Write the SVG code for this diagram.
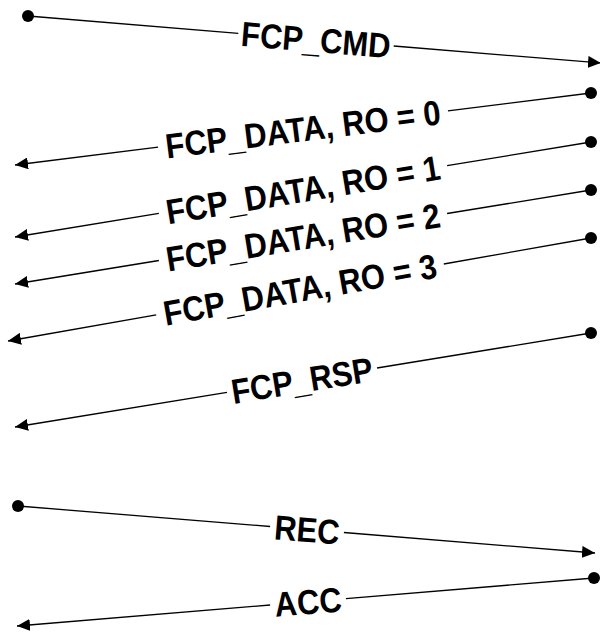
<svg xmlns="http://www.w3.org/2000/svg" width="600" height="632" viewBox="0 0 600 632">
  <style>
    .msg { stroke: #000; stroke-width: 1.3; fill: none; }
    .lbl { font-family: "Liberation Sans", Arial, sans-serif; font-weight: bold; font-size: 31px; fill: #000; text-anchor: middle; }
    .dot { fill: #000; }
  </style>
  <defs>
    <marker id="arrow" markerUnits="userSpaceOnUse" markerWidth="13" markerHeight="12" refX="13" refY="6" orient="auto">
      <path d="M0,0 L13,6 L0,12 z" fill="#000"/>
    </marker>
  </defs>
  <rect width="600" height="632" fill="#fff"/>

  <g id="connectors">
    <!-- FCP_CMD: initiator to target -->
    <g id="fcp-cmd">
      <circle class="dot" cx="28" cy="16" r="6"/>
      <line class="msg" x1="28" y1="16" x2="238.3" y2="33.3"/>
      <line class="msg" x1="393.7" y1="46" x2="601" y2="63" marker-end="url(#arrow)"/>
      <text class="lbl" transform="translate(316,39.7) rotate(4.7) scale(1,1.12)" x="0" y="11">FCP_CMD</text>
    </g>
    <!-- FCP_DATA frames: target to initiator -->
    <g id="fcp-data-0">
      <circle class="dot" cx="591" cy="93" r="6"/>
      <line class="msg" x1="591" y1="93" x2="447.9" y2="110.9"/>
      <line class="msg" x1="158.1" y1="147.1" x2="15" y2="165" marker-end="url(#arrow)"/>
      <text class="lbl" transform="translate(303,129) rotate(-7.13) scale(1,1.12)" x="0" y="11">FCP_DATA, RO = 0</text>
    </g>
    <g id="fcp-data-1">
      <circle class="dot" cx="591" cy="142" r="6"/>
      <line class="msg" x1="591" y1="142" x2="447.1" y2="165.7"/>
      <line class="msg" x1="158.9" y1="213.3" x2="15" y2="237" marker-end="url(#arrow)"/>
      <text class="lbl" transform="translate(303,189.5) rotate(-9.37) scale(1,1.12)" x="0" y="11">FCP_DATA, RO = 1</text>
    </g>
    <g id="fcp-data-2">
      <circle class="dot" cx="591" cy="190" r="6"/>
      <line class="msg" x1="591" y1="190" x2="447.1" y2="213.5"/>
      <line class="msg" x1="158.9" y1="260.5" x2="15" y2="284" marker-end="url(#arrow)"/>
      <text class="lbl" transform="translate(303,237) rotate(-9.27) scale(1,1.12)" x="0" y="11">FCP_DATA, RO = 2</text>
    </g>
    <g id="fcp-data-3">
      <circle class="dot" cx="591" cy="238" r="6"/>
      <line class="msg" x1="591" y1="238" x2="443.8" y2="264"/>
      <line class="msg" x1="156.2" y1="314.8" x2="8" y2="341" marker-end="url(#arrow)"/>
      <text class="lbl" transform="translate(300,289.4) rotate(-10.02) scale(1,1.12)" x="0" y="11">FCP_DATA, RO = 3</text>
    </g>
    <!-- FCP_RSP: target to initiator -->
    <g id="fcp-rsp">
      <circle class="dot" cx="591" cy="333" r="6"/>
      <line class="msg" x1="591" y1="333" x2="377" y2="368"/>
      <line class="msg" x1="227" y1="392.4" x2="15" y2="427" marker-end="url(#arrow)"/>
      <text class="lbl" transform="translate(302,380.2) rotate(-9.27) scale(1,1.12)" x="0" y="11">FCP_RSP</text>
    </g>
    <!-- REC / ACC exchange -->
    <g id="rec">
      <circle class="dot" cx="18" cy="506" r="6"/>
      <line class="msg" x1="18" y1="506" x2="270.1" y2="526.5"/>
      <line class="msg" x1="343.9" y1="532.5" x2="595" y2="553" marker-end="url(#arrow)"/>
      <text class="lbl" transform="translate(307,529.5) rotate(4.66) scale(1,1.12)" x="0" y="11">REC</text>
    </g>
    <g id="acc">
      <circle class="dot" cx="594" cy="578" r="6"/>
      <line class="msg" x1="594" y1="578" x2="345.9" y2="598.7"/>
      <line class="msg" x1="270.1" y1="605" x2="17" y2="626" marker-end="url(#arrow)"/>
      <text class="lbl" transform="translate(308,601.8) rotate(-4.76) scale(1,1.12)" x="0" y="11">ACC</text>
    </g>
  </g>
</svg>
